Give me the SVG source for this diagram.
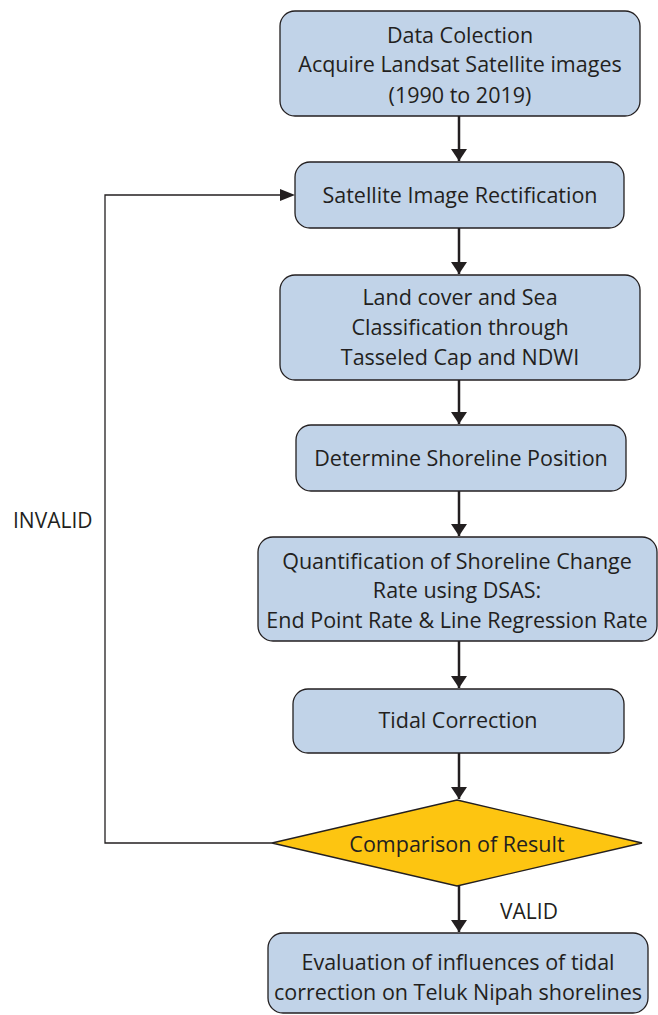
<svg xmlns="http://www.w3.org/2000/svg" width="658" height="1015" viewBox="0 0 658 1015">
  <defs>
    <marker id="arrow" viewBox="0 0 12 16" refX="12" refY="8" markerWidth="12" markerHeight="16" markerUnits="userSpaceOnUse" orient="auto">
      <path d="M0,0 L12,8 L0,16 Z" fill="#231f20"/>
    </marker>
    <style>
      .box { fill: #c1d3e8; stroke: #231f20; stroke-width: 1.3; }
      .dec { fill: #fdc511; stroke: #231f20; stroke-width: 1.3; }
      .lbl { font-family: "Open Sans", "Noto Sans", "Liberation Sans", sans-serif; font-size: 21.5px; fill: #231f20; text-anchor: middle; }
      .side { font-family: "Open Sans", "Noto Sans", "Liberation Sans", sans-serif; font-size: 21px; fill: #231f20; }
      .wire { fill: none; stroke: #231f20; stroke-width: 2.5; }
      .thin { fill: none; stroke: #231f20; stroke-width: 1.3; }
    </style>
  </defs>
  <rect width="658" height="1015" fill="#ffffff"/>

  <g id="connectors">
    <line class="wire" x1="459" y1="116" x2="459" y2="161" marker-end="url(#arrow)"/>
    <line class="wire" x1="459" y1="228" x2="459" y2="274" marker-end="url(#arrow)"/>
    <line class="wire" x1="459" y1="380" x2="459" y2="424" marker-end="url(#arrow)"/>
    <line class="wire" x1="459" y1="491" x2="459" y2="536" marker-end="url(#arrow)"/>
    <line class="wire" x1="459" y1="641" x2="459" y2="688" marker-end="url(#arrow)"/>
    <line class="wire" x1="459" y1="753" x2="459" y2="799" marker-end="url(#arrow)"/>
    <line class="wire" x1="459" y1="886" x2="459" y2="932" marker-end="url(#arrow)"/>
    <polyline class="thin" points="272,843 105,843 105,195 282,195"/>
    <path d="M280,189 L295,195 L280,201 Z" fill="#231f20"/>
    <text class="side" x="13" y="528">INVALID</text>
    <text class="side" x="500" y="919">VALID</text>
  </g>

  <g id="data-collection">
    <rect class="box" x="280" y="11" width="360" height="105" rx="15"/>
    <text class="lbl" x="460" y="43">Data Colection</text>
    <text class="lbl" x="460" y="72">Acquire Landsat Satellite images</text>
    <text class="lbl" x="460" y="103">(1990 to 2019)</text>
  </g>

  <g id="rectification">
    <rect class="box" x="295" y="162" width="329" height="66" rx="15"/>
    <text class="lbl" x="460" y="203">Satellite Image Rectification</text>
  </g>

  <g id="classification">
    <rect class="box" x="280" y="275" width="360" height="105" rx="15"/>
    <text class="lbl" x="460" y="305">Land cover and Sea</text>
    <text class="lbl" x="460" y="335">Classification through</text>
    <text class="lbl" x="460" y="365">Tasseled Cap and NDWI</text>
  </g>

  <g id="shoreline-position">
    <rect class="box" x="296" y="425" width="330" height="66" rx="15"/>
    <text class="lbl" x="461" y="466">Determine Shoreline Position</text>
  </g>

  <g id="quantification">
    <rect class="box" x="258" y="537" width="399" height="104" rx="15"/>
    <text class="lbl" x="457" y="569">Quantification of Shoreline Change</text>
    <text class="lbl" x="457" y="598">Rate using DSAS:</text>
    <text class="lbl" x="457" y="628">End Point Rate &amp; Line Regression Rate</text>
  </g>

  <g id="tidal-correction">
    <rect class="box" x="293" y="689" width="331" height="64" rx="15"/>
    <text class="lbl" x="458" y="728">Tidal Correction</text>
  </g>

  <g id="comparison">
    <polygon class="dec" points="457,800 642,843 457,886 272,843"/>
    <text class="lbl" x="457" y="852">Comparison of Result</text>
  </g>

  <g id="evaluation">
    <rect class="box" x="268" y="933" width="380" height="80" rx="15"/>
    <text class="lbl" x="458" y="970">Evaluation of influences of tidal</text>
    <text class="lbl" x="458" y="1000">correction on Teluk Nipah shorelines</text>
  </g>
</svg>
